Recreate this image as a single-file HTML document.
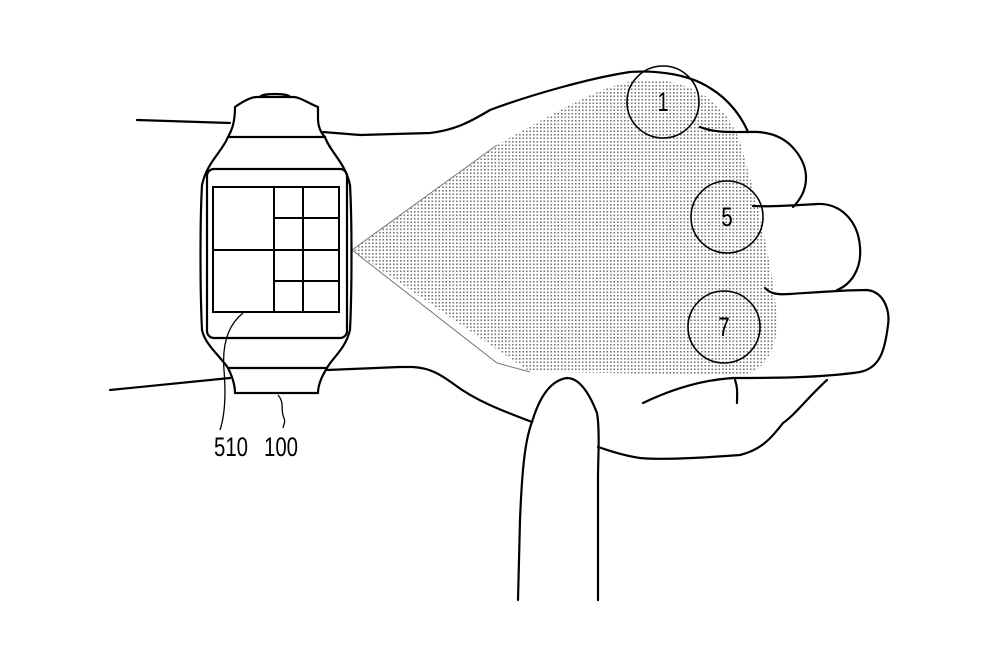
<!DOCTYPE html>
<html><head><style>html,body{margin:0;padding:0;background:#fff;}svg{display:block}</style></head>
<body>
<svg width="1000" height="652" viewBox="0 0 1000 652" xmlns="http://www.w3.org/2000/svg">
<defs>
<pattern id="dots" width="3.5" height="3.5" patternUnits="userSpaceOnUse">
<rect x="1" y="1" width="1.6" height="1.6" fill="#777"/>
</pattern>
</defs>
<path d="M352,250 L497,145 C560,110 600,85 640,80 C700,78 735,110 745,160 C760,210 770,260 775,300 C782,340 770,372 740,375 C680,375 600,372 530,372 Z" fill="url(#dots)"/>
<path d="M352,250 L497,145 M352,250 L497,363 L530,372" fill="none" stroke="#777" stroke-width="1"/>
<g fill="none" stroke="#000" stroke-width="2.2" stroke-linecap="round" stroke-linejoin="round">
<path d="M137,120 L230,123"/>
<path d="M323,132 L360,135 L430,133 C455,130 470,122 490,110 C530,95 590,78 630,72 C660,70 690,75 710,88 C730,100 742,118 748,132"/>
<path d="M700,127 C715,133 730,132 748,132 C765,131 783,135 795,150 C810,168 810,190 793,207"/>
<path d="M753,206 C775,207 800,205 817,204 C840,203 858,220 860,247 C862,270 850,285 837,290"/>
<path d="M765,288 C770,293 775,295 790,294 C820,292 845,290 867,290 C885,292 890,312 888,325 C885,350 880,368 860,372 C820,378 770,378 733,378"/>
<path d="M643,403 C670,390 700,380 733,378"/>
<path d="M735,380 C738,388 737,395 737,403"/>
<path d="M827,380 C810,395 795,415 783,423 C770,440 760,450 740,455 C700,458 660,460 640,458 C620,455 608,450 598,447"/>
<path d="M110,390 L230,378"/>
<path d="M327,370 L400,367 L413,367 C430,368 440,374 455,385 C475,400 500,410 532,422"/>
<path d="M518,600 L520,520 C522,470 525,440 532,422 C540,395 552,380 567,378 C580,378 590,395 597,413 C600,430 598,460 598,477 L598,600"/>
<path d="M235,107 C245,100 252,97 257,97 L293,97 C300,97 308,103 318,107 L318,118 C318,128 322,134 325,137 C330,152 345,162 350,185 C352,220 352,290 350,330 C345,350 332,358 327,368 C322,376 318,385 318,393 L235,393 C235,385 232,376 228,368 C222,358 205,345 202,330 C200,290 200,220 202,185 C207,162 222,152 228,137 C232,130 235,122 235,107 Z"/>
<path d="M228,137 L325,137 M228,368 L327,368"/>
<path d="M260,97 C262,93 288,93 290,97"/>
<rect x="207" y="169" width="140" height="169" rx="7"/>
</g>
<g fill="none" stroke="#000" stroke-width="2">
<rect x="213" y="187" width="126" height="125"/>
<path d="M274,187 V312 M303,187 V312 M213,250 H339 M274,218 H339 M274,281 H339"/>
</g>
<g fill="none" stroke="#000" stroke-width="1.3">
<path d="M243,313 C228,325 222,345 224,370 C226,395 225,415 220,430"/>
<path d="M278,395 C285,403 280,410 284,418 C286,422 283,426 283,428"/>
</g>
<g fill="none" stroke="#000" stroke-width="1.6">
<circle cx="663" cy="102" r="36"/>
<circle cx="727" cy="217" r="36"/>
<circle cx="724" cy="327" r="36"/>
</g>
<g font-family="Liberation Sans, sans-serif" font-size="24" fill="#000" text-anchor="middle">
<text x="663" y="111" transform="translate(663,111) scale(0.85,1.1) translate(-663,-111)">1</text>
<text x="727" y="226" transform="translate(727,226) scale(0.85,1.1) translate(-727,-226)">5</text>
<text x="724" y="336" transform="translate(724,336) scale(0.85,1.1) translate(-724,-336)">7</text>
<text x="231" y="456" transform="translate(231,456) scale(0.85,1.1) translate(-231,-456)">510</text>
<text x="281" y="456" transform="translate(281,456) scale(0.85,1.1) translate(-281,-456)">100</text>
</g>
</svg>
</body></html>
